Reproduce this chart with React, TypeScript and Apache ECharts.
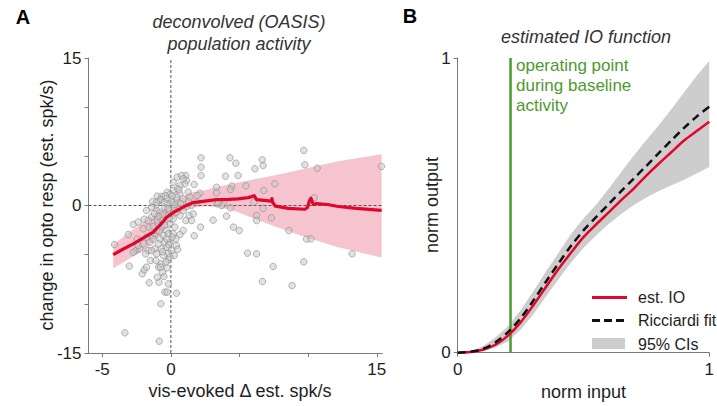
import React, { useEffect, useRef } from "react";
import * as echarts from "echarts";

// ---------- Panel A data ----------
const scatterPoints: number[][] = [
  [9.68, 5.6], [9.76, 4.14], [10.66, 3.8], [15.34, 3.97], [6.65, 4.64], [6.72, 4.07], [6.12, 3.73],
  [4.3, 4.85], [4.73, 4.3], [2.2, 4.85], [2.2, 3.9], [2.2, 3.05], [3.98, 2.98], [4.9, 3.05],
  [7.57, 2.2], [5.46, 2.0], [3.33, 1.86], [4.44, 1.97], [4.34, 1.63], [3.33, 1.29], [6.77, 1.53],
  [1.7, 2.14], [2.1, 1.25], [1.92, 1.02], [3.37, 0.17], [3.86, 0.17], [3.69, 0.0], [3.45, 0.34],
  [4.34, -0.24], [6.04, 0.34], [6.72, -0.31], [6.24, -1.02], [6.24, -1.53], [7.33, -1.25],
  [4.05, -1.08], [3.08, -1.49], [2.16, -2.2], [4.56, -2.2], [4.98, -2.54], [1.7, -3.08],
  [8.59, -2.54], [9.88, -3.42], [10.2, -3.39], [5.58, -4.85], [6.24, -4.92], [13.2, -4.92],
  [7.45, -6.2], [9.68, -5.73], [6.67, -7.73], [8.83, -8.14], [0.41, -8.92], [-0.73, -10.0],
  [-3.35, -12.95], [-0.85, -13.8], [10.44, 0.78],
  [-4.1, -3.97], [-3.03, -6.17], [-3.1, -2.95], [-2.74, -1.93], [-2.38, -1.69], [-1.94, -1.39],
  [-2.01, -2.37], [-1.6, -2.2], [-2.55, -4.58], [-2.45, -3.42], [-1.65, -4.58], [-1.84, -4.92],
  [-2.09, -6.95], [-1.94, -6.54], [-1.58, -7.86], [-0.87, -7.8], [-0.99, -7.29], [-0.51, -7.22],
  [-0.9, -6.27], [-0.7, -5.93], [-0.27, -6.34], [-0.19, -7.97], [-0.44, -8.81], [-0.27, -8.81],
  [-0.61, -6.78], [-1.48, -5.59], [-1.09, -5.59], [-0.19, -5.53], [-0.19, -4.85], [0.41, -4.07],
  [0.49, -4.47], [0.24, -5.08], [0.36, -3.39], [0.66, -2.95], [0.9, -2.54], [1.09, -1.53],
  [1.5, -1.53], [1.33, -1.02], [1.63, -0.85],
  [0.46, 2.88], [1.09, 3.05], [1.14, 2.54], [1.02, 2.2], [0.66, 2.03], [0.46, 1.7], [0.17, 1.53],
  [-0.27, 1.36], [-0.68, 0.92], [-0.99, 0.95], [-1.33, 0.41], [-1.09, 0.0], [-0.8, 0.51],
  [-0.36, 0.68], [-0.07, 1.12], [0.66, 1.19], [1.26, 1.36], [1.38, 0.85], [0.9, 0.68], [0.41, 0.51],
  [1.5, 0.0], [1.87, 0.34], [-1.41, -0.17], [-1.04, -0.51], [-1.77, -0.51], [-1.41, -1.19],
  [-0.8, -0.68], [-0.44, -0.17], [-0.27, -1.02], [-0.61, -1.53], [-0.99, -1.8], [-1.29, -2.14],
  [-0.68, -2.2], [-0.32, -2.54], [-0.07, -1.86], [0.29, -2.2], [0.17, -1.36], [0.66, -1.02],
  [0.9, -0.51], [0.53, -0.24], [1.14, -0.1], [-0.56, -3.05], [-0.19, -2.88], [0.17, -2.88],
  [-0.8, -3.39], [-0.44, -3.73], [-0.07, -3.73], [-0.92, -3.9], [-0.32, -4.24], [-0.68, -4.41],
  [-1.17, -4.41], [-1.41, -4.58], [0.05, -4.58], [-1.04, -4.92], [-0.56, -5.08], [-0.07, -5.25],
  [-0.36, -5.76], [-0.75, -6.27], [-1.77, -6.27], [-2.26, -4.41], [-1.77, -3.22], [-1.41, -3.05],
  [-1.17, -2.88], [-1.04, -2.54], [-2.01, -3.9], [-2.38, -4.07], [-2.74, -4.75], [-1.53, -3.73],
  [-0.99, -1.46], [-1.65, -1.53], [-1.04, 0.34], [-0.73, 0.61], [0.17, 2.37], [0.78, 3.05],
  [0.9, 2.71], [0.41, 0.85], [0.05, 0.34], [-0.27, 0.17], [0.22, -0.24], [-0.12, -0.51],
  [-0.5, 0.3], [-0.2, -0.3], [0.3, 0.1], [-0.6, -0.9], [-0.1, -1.3], [0.4, -0.7], [-0.9, -1.1],
  [-0.45, -2.0], [0.1, -3.2], [-0.3, -3.4], [-0.6, -4.7], [0.7, 0.2], [0.1, 1.0], [-0.4, 1.0],
  [1.3, 0.4], [0.6, 1.6], [-1.2, -0.8], [-0.15, -4.0], [-1.3, -3.4], [-0.85, -2.6]
];

const trendA: number[][] = [
  [-4.2, -5.0], [-3.5, -4.45], [-2.74, -3.9], [-2.0, -3.3], [-1.29, -2.7], [-0.8, -2.0],
  [-0.31, -1.2], [0.2, -0.7], [0.66, -0.34], [1.1, -0.02], [1.62, 0.3], [2.48, 0.45],
  [3.3, 0.6], [4.2, 0.63], [4.9, 0.68], [5.63, 0.8], [6.07, 1.0], [6.24, 0.6], [6.97, 0.5],
  [7.3, 0.45], [7.36, 0.7], [7.42, 0.3], [7.62, -0.07], [8.55, -0.3], [9.76, -0.38],
  [9.95, -0.2], [10.1, 0.5], [10.2, 0.75], [10.37, 0.1], [10.6, 0.2], [11.4, 0.1],
  [12.2, -0.1], [13.5, -0.3], [15.35, -0.5]
];

const bandAUpper: number[][] = [
  [-4.2, -4.0], [-3.0, -2.7], [-1.77, -1.5], [-0.8, -0.6], [0, 0], [0.7, 0.7], [1.38, 1.3],
  [2.5, 1.55], [3.08, 1.8], [4.9, 2.35], [7.33, 3.0], [9.76, 3.75], [12.19, 4.5], [15.35, 5.2]
];
const bandALower: number[][] = [
  [-4.2, -6.4], [-3.0, -5.4], [-1.77, -4.4], [-0.8, -2.9], [0, -1.5], [0.7, -0.7], [1.38, -0.25],
  [2.48, -0.07], [3.3, -0.15], [4.3, -0.4], [4.9, -0.68], [6.0, -1.3], [7.33, -2.0],
  [9.76, -3.2], [12.19, -4.24], [15.35, -5.3]
];

const xTicksA = [-5, 0, 5, 10, 15];
const xLabelsA = [-5, 0, 15];
const yLabelsA = [-15, 0, 15];

// ---------- Panel B data ----------
const ioX = [0, 0.05, 0.1, 0.15, 0.2, 0.25, 0.3, 0.35, 0.4, 0.45, 0.5, 0.55, 0.6, 0.65, 0.7, 0.75, 0.8, 0.85, 0.9, 0.95, 1.0];
const ioEst = [0, 0.002, 0.01, 0.027, 0.058, 0.103, 0.16, 0.222, 0.283, 0.339, 0.392, 0.435, 0.476, 0.518, 0.557, 0.601, 0.642, 0.681, 0.72, 0.752, 0.784];
const ioFit = [0, 0.003, 0.013, 0.035, 0.07, 0.117, 0.176, 0.24, 0.302, 0.362, 0.415, 0.46, 0.504, 0.548, 0.591, 0.634, 0.678, 0.721, 0.763, 0.801, 0.835];
const ciUpper = [0, 0.004, 0.022, 0.052, 0.09, 0.144, 0.208, 0.275, 0.338, 0.402, 0.455, 0.502, 0.556, 0.613, 0.669, 0.722, 0.773, 0.827, 0.884, 0.94, 0.99];
const ciLower = [0, 0, 0.005, 0.018, 0.038, 0.078, 0.13, 0.19, 0.248, 0.305, 0.355, 0.398, 0.437, 0.471, 0.501, 0.527, 0.549, 0.568, 0.587, 0.608, 0.63];
const operatingPoint = 0.21;

const FONT = "'Liberation Sans', Arial, Helvetica, sans-serif";
const RED = "#e2062c";
const PINK = "#f6c4ce";
const GREEN = "#4e9a2f";
const AXIS = "#7a7a7a";
const TEXT = "#1e1e1e";

function polygonSeries(poly: number[][], fill: string, gi: number) {
  return {
    type: "custom",
    xAxisIndex: gi,
    yAxisIndex: gi,
    silent: true,
    clip: false,
    data: [poly[0]],
    renderItem: (_params: any, api: any) => ({
      type: "polygon",
      shape: { points: poly.map((p) => api.coord(p)) },
      style: { fill, stroke: null, lineWidth: 0 },
    }),
    z: 1,
  };
}

export default function App() {
  const ref = useRef<HTMLDivElement>(null);
  useEffect(() => {
    if (!ref.current) return;
    const chart = echarts.init(ref.current, undefined, { renderer: "svg" });

    const bandAPoly = [...bandAUpper, ...bandALower.slice().reverse()];
    const ciPoly = [
      ...ioX.map((x, i) => [x, ciUpper[i]]),
      ...ioX.map((x, i) => [x, ciLower[i]]).reverse(),
    ];

    const axisLine = { show: true, onZero: false, lineStyle: { color: AXIS, width: 1 } };
    const axisTick = { show: true, length: 4, lineStyle: { color: AXIS } };
    const labelStyle = { fontSize: 17, color: TEXT, fontFamily: FONT };

    chart.setOption({
      animation: false,
      backgroundColor: "#ffffff",
      grid: [
        { left: 88.5, top: 58, width: 293.8, height: 295 },
        { left: 457.7, top: 58, width: 258.3, height: 294.7 },
      ],
      xAxis: [
        {
          gridIndex: 0, type: "value", min: -6, max: 15.4, position: "bottom",
          axisLine, splitLine: { show: false },
          axisTick: { ...axisTick, customValues: xTicksA },
          axisLabel: { ...labelStyle, customValues: xLabelsA, margin: 8 },
        },
        {
          gridIndex: 1, type: "value", min: 0, max: 1, interval: 1, position: "bottom",
          axisLine, axisTick, splitLine: { show: false },
          axisLabel: { ...labelStyle, margin: 8 },
          name: "norm input", nameLocation: "middle", nameGap: 23,
          nameTextStyle: { fontSize: 18, color: TEXT, fontFamily: FONT, verticalAlign: "top" },
        },
      ],
      yAxis: [
        {
          gridIndex: 0, type: "value", min: -15, max: 15, interval: 5, position: "left",
          axisLine, axisTick, splitLine: { show: false },
          axisLabel: { ...labelStyle, customValues: yLabelsA, margin: 7 },
        },
        {
          gridIndex: 1, type: "value", min: 0, max: 1, interval: 1, position: "left",
          axisLine, axisTick, splitLine: { show: false },
          axisLabel: { ...labelStyle, margin: 7 },
        },
      ],
      series: [
        polygonSeries(bandAPoly, PINK, 0),
        {
          type: "line", xAxisIndex: 0, yAxisIndex: 0, silent: true, showSymbol: false, symbol: "none",
          data: [[0, -15], [0, 15]],
          lineStyle: { color: "#555", width: 1, type: [3, 2] }, z: 2,
        },
        {
          type: "line", xAxisIndex: 0, yAxisIndex: 0, silent: true, showSymbol: false, symbol: "none",
          data: [[-6, 0], [15.4, 0]],
          lineStyle: { color: "#555", width: 1, type: [3, 2] }, z: 2,
        },
        {
          type: "scatter", xAxisIndex: 0, yAxisIndex: 0, silent: true,
          data: scatterPoints, symbolSize: 6.5,
          itemStyle: { color: "rgba(200,200,200,0.65)", borderColor: "#8c8c8c", borderWidth: 0.8 },
          z: 3,
        },
        {
          type: "line", xAxisIndex: 0, yAxisIndex: 0, silent: true, showSymbol: false, symbol: "none",
          data: trendA, lineStyle: { color: RED, width: 3.2, join: "round" }, z: 4,
        },
        polygonSeries(ciPoly, "#cdcdcd", 1),
        {
          type: "line", xAxisIndex: 1, yAxisIndex: 1, silent: true, showSymbol: false, symbol: "none",
          data: [[operatingPoint, 0], [operatingPoint, 1]],
          lineStyle: { color: GREEN, width: 2.5 }, z: 2,
        },
        {
          name: "est. IO", type: "line", xAxisIndex: 1, yAxisIndex: 1, silent: true, showSymbol: false, symbol: "none",
          smooth: 0.3,
          data: ioX.map((x, i) => [x, ioEst[i]]), lineStyle: { color: RED, width: 2.5 }, z: 3,
        },
        {
          name: "Ricciardi fit", type: "line", xAxisIndex: 1, yAxisIndex: 1, silent: true, showSymbol: false, symbol: "none",
          smooth: 0.3,
          data: ioX.map((x, i) => [x, ioFit[i]]), lineStyle: { color: "#111", width: 2.5, type: [8, 5] }, z: 4,
        },
      ],
      graphic: {
        elements: [
          {
            type: "group", z: 100,
            children: [
              { type: "text", x: 23, y: 17, style: { text: "A", fontSize: 20, fontWeight: "bold", fontFamily: FONT, fill: "#000", align: "center", verticalAlign: "middle" } },
              { type: "text", x: 410, y: 16, style: { text: "B", fontSize: 20, fontWeight: "bold", fontFamily: FONT, fill: "#000", align: "center", verticalAlign: "middle" } },
              { type: "text", x: 239, y: 22, style: { text: "deconvolved (OASIS)", fontSize: 18, fontStyle: "italic", fontFamily: FONT, fill: "#333", align: "center", verticalAlign: "middle" } },
              { type: "text", x: 239, y: 44, style: { text: "population activity", fontSize: 18, fontStyle: "italic", fontFamily: FONT, fill: "#333", align: "center", verticalAlign: "middle" } },
              { type: "text", x: 586, y: 37, style: { text: "estimated IO function", fontSize: 18, fontStyle: "italic", fontFamily: FONT, fill: "#333", align: "center", verticalAlign: "middle" } },
              { type: "text", x: 240, y: 391, style: { text: "vis-evoked Δ est. spk/s", fontSize: 18, fontFamily: FONT, fill: TEXT, align: "center", verticalAlign: "middle" } },
              { type: "text", x: 47, y: 205, rotation: Math.PI / 2, style: { text: "change in opto resp (est. spk/s)", fontSize: 18, fontFamily: FONT, fill: TEXT, align: "center", verticalAlign: "middle" } },
              { type: "text", x: 432, y: 205, rotation: Math.PI / 2, style: { text: "norm output", fontSize: 18, fontFamily: FONT, fill: TEXT, align: "center", verticalAlign: "middle" } },
              { type: "text", x: 516, y: 55, style: { text: "operating point\nduring baseline\nactivity", fontSize: 17, lineHeight: 20, fontFamily: FONT, fill: GREEN, align: "left", verticalAlign: "top" } },
              { type: "line", shape: { x1: 592, y1: 297.5, x2: 627, y2: 297.5 }, style: { stroke: RED, lineWidth: 3 } },
              { type: "line", shape: { x1: 592, y1: 320.5, x2: 627, y2: 320.5 }, style: { stroke: "#111", lineWidth: 3, lineDash: [8, 4] } },
              { type: "rect", shape: { x: 592, y: 338, width: 33, height: 11 }, style: { fill: "#cdcdcd" } },
              { type: "text", x: 638, y: 297.5, style: { text: "est. IO", fontSize: 16, fontFamily: FONT, fill: TEXT, align: "left", verticalAlign: "middle" } },
              { type: "text", x: 638, y: 320.5, style: { text: "Ricciardi fit", fontSize: 16, fontFamily: FONT, fill: TEXT, align: "left", verticalAlign: "middle" } },
              { type: "text", x: 638, y: 344, style: { text: "95% CIs", fontSize: 16, fontFamily: FONT, fill: TEXT, align: "left", verticalAlign: "middle" } },
            ],
          },
        ],
      },
    });
    return () => chart.dispose();
  }, []);

  return (
    <div
      ref={ref}
      style={{ position: "absolute", left: 0, top: 0, width: 717, height: 406, background: "#fff" }}
    />
  );
}
